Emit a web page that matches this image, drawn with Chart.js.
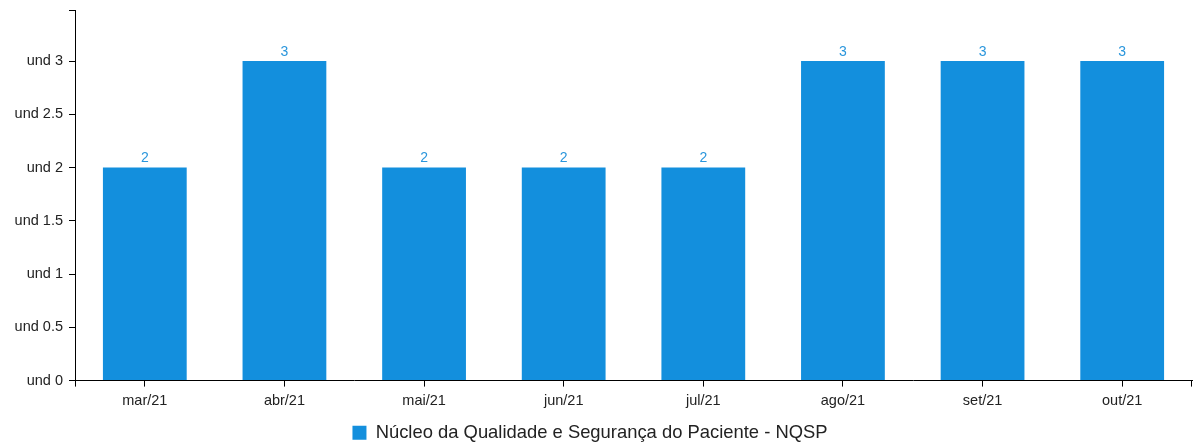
<!DOCTYPE html>
<html>
<head>
<meta charset="utf-8">
<script src="https://cdn.jsdelivr.net/npm/chart.js@4"></script>
<style>
  html, body { margin: 0; padding: 0; background: #fff; }
  #wrap { width: 1194px; height: 445px; }
</style>
</head>
<body>
<div id="wrap"><canvas id="chart" width="1194" height="445"></canvas></div>
<script>
const months = ["mar/21", "abr/21", "mai/21", "jun/21", "jul/21", "ago/21", "set/21", "out/21"];
const nqspValues = [2, 3, 2, 2, 2, 3, 3, 3];
const seriesName = "Núcleo da Qualidade e Segurança do Paciente - NQSP";
const yMax = 3.48;
const barColor = "#138fdd";

Chart.defaults.font.family = "'Liberation Sans', Arial, sans-serif";

// value labels above each bar
const valueLabels = {
    id: "valueLabels",
    afterDatasetsDraw(chart) {
        const ctx = chart.ctx;
        const meta = chart.getDatasetMeta(0);
        ctx.save();
        ctx.fillStyle = "#2a96dc";
        ctx.font = "14px 'Liberation Sans', Arial, sans-serif";
        ctx.textAlign = "center";
        ctx.textBaseline = "bottom";
        meta.data.forEach((bar, i) => {
            ctx.fillText(nqspValues[i], bar.x, bar.y - 2);
        });
        ctx.restore();
    }
};

// outer ticks at both ends of the x axis, legend nudged a bit left
const outerTicks = {
    id: "outerTicks",
    afterLayout(chart) {
        if (chart.legend) {
            chart.legend.left -= 6;
            chart.legend.right -= 6;
        }
    },
    afterDraw(chart) {
        const ctx = chart.ctx;
        const area = chart.chartArea;
        ctx.save();
        ctx.strokeStyle = "#000";
        ctx.lineWidth = 1;
        ctx.beginPath();
        ctx.moveTo(area.left + 0.5, area.bottom);
        ctx.lineTo(area.left + 0.5, area.bottom + 6);
        ctx.moveTo(area.right - 0.5, area.bottom);
        ctx.lineTo(area.right - 0.5, area.bottom + 6);
        ctx.stroke();
        ctx.restore();
    }
};

new Chart(document.getElementById("chart"), {
    type: "bar",
    data: {
        labels: months,
        datasets: [{
            label: seriesName,
            data: nqspValues,
            backgroundColor: barColor,
            barPercentage: 0.6,
            categoryPercentage: 1.0
        }]
    },
    options: {
        responsive: false,
        animation: false,
        layout: { padding: { top: 10, right: 2, left: 0, bottom: -7 } },
        plugins: {
            legend: {
                position: "bottom",
                labels: {
                    color: "#222",
                    font: { size: 18.4, lineHeight: 1 },
                    boxWidth: 14,
                    boxHeight: 14,
                    padding: 2
                }
            },
            tooltip: { enabled: false }
        },
        scales: {
            x: {
                grid: { offset: false, drawOnChartArea: false, color: "#000", tickLength: 6 },
                border: { color: "#000" },
                ticks: { color: "#222", font: { size: 14.5 }, padding: 6 },
                afterFit(scale) { scale.height = 41; }
            },
            y: {
                min: 0,
                max: yMax,
                grid: { drawOnChartArea: false, color: "#000", tickLength: 6 },
                border: { color: "#000" },
                ticks: {
                    stepSize: 0.5,
                    color: "#222",
                    font: { size: 14.5 },
                    padding: 6,
                    callback: (v) => (Math.abs(v * 2 - Math.round(v * 2)) < 1e-9 ? "und " + v : "")
                },
                afterFit(scale) {
                    scale.width = 75;
                    scale.paddingTop = 0;
                    scale.paddingBottom = 0;
                }
            }
        }
    },
    plugins: [valueLabels, outerTicks]
});
</script>
</body>
</html>
